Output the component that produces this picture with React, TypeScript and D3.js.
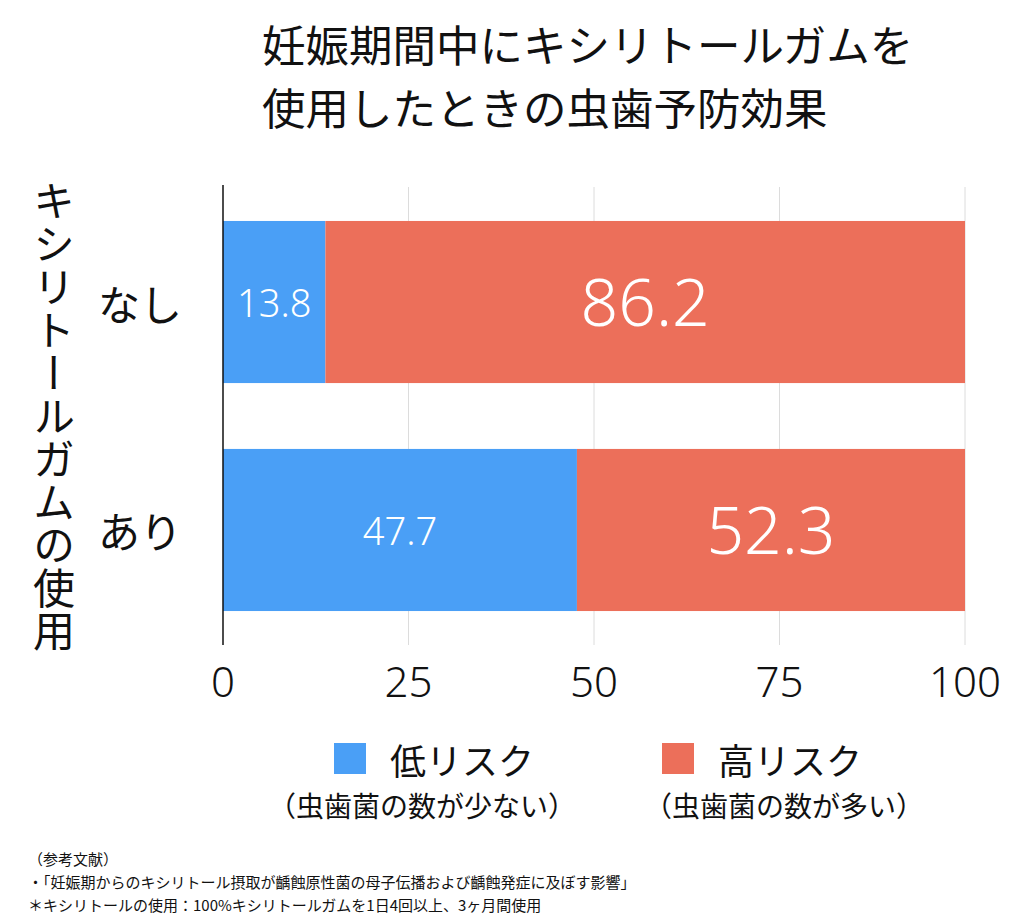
import React from "react";
import * as d3 from "d3";

const categories = ["なし", "あり"];
const lowRisk = [13.8, 47.7];
const highRisk = [86.2, 52.3];
const xTicks = [0, 25, 50, 75, 100];
const seriesNames = ["低リスク", "高リスク"];
const seriesSub = ["（虫歯菌の数が少ない）", "（虫歯菌の数が多い）"];
const colors = ["#4A9FF6", "#EC6F5A"];
const titleLines = ["妊娠期間中にキシリトールガムを", "使用したときの虫歯予防効果"];
const yTitle = "キシリトールガムの使用";
const notes = [
  "（参考文献）",
  "・「妊娠期からのキシリトール摂取が齲蝕原性菌の母子伝播および齲蝕発症に及ぼす影響」",
  "＊キシリトールの使用：100%キシリトールガムを1日4回以上、3ヶ月間使用",
];

const FONT = "'Noto Sans CJK JP', 'Noto Sans', sans-serif";
const NUMFONT = "'Noto Sans', 'Noto Sans CJK JP', sans-serif";

export default function App() {
  const W = 1024, H = 921;
  const x = d3.scaleLinear().domain([0, 100]).range([223, 965]);
  const y = d3.scaleBand().domain(categories).range([187, 645]).paddingInner(0.289).paddingOuter(0.149);
  const stacked = categories.map((c, i) => ({ c, low: lowRisk[i], high: highRisk[i] }));
  return (
    <svg width={W} height={H} style={{ position: "absolute", left: 0, top: 0, background: "#fff" }} fontFamily={FONT}>
      <rect width={W} height={H} fill="#fff" />
      {titleLines.map((t, i) => (
        <text key={i} x={262} y={43 + i * 63} fontSize={43.5} dominantBaseline="central" fill="#111">{t}</text>
      ))}
      {xTicks.slice(1).map((t) => (
        <line key={t} x1={x(t)} x2={x(t)} y1={187} y2={645} stroke="#dcdcdc" strokeWidth={1} />
      ))}
      {stacked.map((d) => {
        const y0 = y(d.c)!;
        const bh = y.bandwidth();
        return (
          <g key={d.c}>
            <rect x={x(0)} y={y0} width={x(d.low) - x(0)} height={bh} fill={colors[0]} />
            <rect x={x(d.low)} y={y0} width={x(100) - x(d.low)} height={bh} fill={colors[1]} />
            <text x={(x(0) + x(d.low)) / 2} y={y0 + bh / 2} fontSize={38} fill="#fff" textAnchor="middle" dominantBaseline="central" fontWeight={300} fontFamily={NUMFONT}>{d.low}</text>
            <text x={(x(d.low) + x(100)) / 2} y={y0 + bh / 2 - 2} fontSize={66} fill="#fff" textAnchor="middle" dominantBaseline="central" fontWeight={300} fontFamily={NUMFONT}>{d.high}</text>
            <text x={140} y={y0 + bh / 2} fontSize={42} fill="#111" textAnchor="middle" dominantBaseline="central">{d.c}</text>
          </g>
        );
      })}
      <line x1={x(0)} x2={x(0)} y1={185} y2={645} stroke="#111" strokeWidth={1.5} />
      {xTicks.map((t) => (
        <text key={t} x={x(t)} y={680} fontSize={42} textAnchor="middle" dominantBaseline="central" fill="#111" fontWeight={300} fontFamily={NUMFONT}>{t}</text>
      ))}
      <text x={54} y={180} fontSize={42} fill="#111" letterSpacing={1}
        style={{ writingMode: "vertical-rl" as any, textOrientation: "mixed" as any }}>{yTitle}</text>
      {[0, 1].map((i) => {
        const sx = [334, 662][i];
        return (
          <g key={i}>
            <rect x={sx} y={743} width={32} height={31} fill={colors[i]} />
            <text x={sx + 56} y={759} fontSize={36} dominantBaseline="central" fill="#111">{seriesNames[i]}</text>
            <text x={[422, 784][i]} y={805} fontSize={28} textAnchor="middle" dominantBaseline="central" fill="#111">{seriesSub[i]}</text>
          </g>
        );
      })}
      {notes.map((n, i) => (
        <text key={i} x={28} y={858 + i * 23} fontSize={15} dominantBaseline="central" fill="#111">{n}</text>
      ))}
    </svg>
  );
}
